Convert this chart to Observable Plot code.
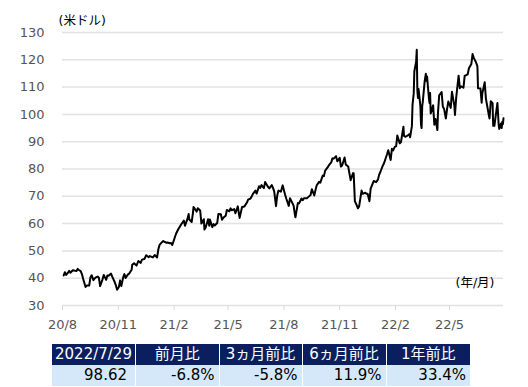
<!DOCTYPE html>
<html>
<head>
<meta charset="utf-8">
<script src="https://cdn.jsdelivr.net/npm/d3@7"></script>
<script src="https://cdn.jsdelivr.net/npm/@observablehq/plot@0.6"></script>
<style>
  html, body { margin: 0; padding: 0; background: #fff; }
  body { width: 528px; height: 387px; position: relative; overflow: hidden; font-family: "DejaVu Sans", "Noto Sans CJK JP", sans-serif; }
  #chart { position: absolute; left: 0; top: 0; }
  table.stats { position: absolute; left: 52px; top: 344px; border-collapse: collapse; font-size: 15px; font-family: "DejaVu Sans", "Noto Sans CJK JP", sans-serif; }
  table.stats td { height: 21px; padding: 0; line-height: 21px; border-left: 1px solid #fff; white-space: nowrap; }
  table.stats td:first-child { border-left: none; }
  table.stats tr.head td { background: #0b1f5e; color: #fff; text-align: center; }
  table.stats tr.vals td { background: #d5e8fa; color: #000; text-align: right; padding-right: 4px; }
  table.stats tr.vals td:first-child { padding-right: 8px; }
</style>
</head>
<body>
<div id="chart"></div>
<script>
// ---- data ----
const dates = [
"2020-08-03","2020-08-05","2020-08-07","2020-08-10","2020-08-12","2020-08-14","2020-08-18","2020-08-20","2020-08-24","2020-08-26","2020-08-28","2020-08-31",
"2020-09-02","2020-09-04","2020-09-08","2020-09-10","2020-09-14","2020-09-16","2020-09-18","2020-09-21","2020-09-23","2020-09-25","2020-09-28","2020-09-30",
"2020-10-02","2020-10-06","2020-10-08","2020-10-12","2020-10-14","2020-10-16","2020-10-20","2020-10-22","2020-10-26","2020-10-28","2020-10-30",
"2020-11-02","2020-11-04","2020-11-06","2020-11-09","2020-11-11","2020-11-13","2020-11-17","2020-11-19","2020-11-23","2020-11-24","2020-11-27",
"2020-12-01","2020-12-04","2020-12-08","2020-12-10","2020-12-14","2020-12-17","2020-12-21","2020-12-23","2020-12-28","2020-12-31",
"2021-01-04","2021-01-06","2021-01-08","2021-01-12","2021-01-14","2021-01-19","2021-01-21","2021-01-25","2021-01-27","2021-01-29",
"2021-02-02","2021-02-04","2021-02-08","2021-02-10","2021-02-12","2021-02-17","2021-02-19","2021-02-23","2021-02-25","2021-02-26",
"2021-03-02","2021-03-04","2021-03-05","2021-03-08","2021-03-10","2021-03-12","2021-03-16","2021-03-18","2021-03-22","2021-03-23","2021-03-25","2021-03-29","2021-03-31",
"2021-04-01","2021-04-05","2021-04-07","2021-04-09","2021-04-13","2021-04-15","2021-04-19","2021-04-21","2021-04-23","2021-04-27","2021-04-29",
"2021-05-03","2021-05-05","2021-05-07","2021-05-11","2021-05-13","2021-05-17","2021-05-19","2021-05-20","2021-05-24","2021-05-26","2021-05-28",
"2021-06-01","2021-06-03","2021-06-07","2021-06-09","2021-06-11","2021-06-15","2021-06-17","2021-06-21","2021-06-23","2021-06-25","2021-06-29",
"2021-07-01","2021-07-06","2021-07-08","2021-07-12","2021-07-14","2021-07-16","2021-07-19","2021-07-21","2021-07-23","2021-07-27","2021-07-30",
"2021-08-03","2021-08-05","2021-08-09","2021-08-11","2021-08-13","2021-08-17","2021-08-19","2021-08-20","2021-08-24","2021-08-26","2021-08-30",
"2021-09-01","2021-09-03","2021-09-08","2021-09-10","2021-09-14","2021-09-16","2021-09-20","2021-09-22","2021-09-24","2021-09-28","2021-09-30",
"2021-10-04","2021-10-06","2021-10-08","2021-10-12","2021-10-14","2021-10-18","2021-10-20","2021-10-22","2021-10-26","2021-10-28",
"2021-11-01","2021-11-03","2021-11-05","2021-11-09","2021-11-11","2021-11-15","2021-11-17","2021-11-19","2021-11-23","2021-11-24","2021-11-26","2021-11-30",
"2021-12-01","2021-12-03","2021-12-07","2021-12-09","2021-12-13","2021-12-15","2021-12-17","2021-12-20","2021-12-22","2021-12-27","2021-12-31",
"2022-01-03","2022-01-05","2022-01-07","2022-01-11","2022-01-13","2022-01-18","2022-01-20","2022-01-24","2022-01-26","2022-01-28","2022-01-31",
"2022-02-02","2022-02-04","2022-02-08","2022-02-10","2022-02-14","2022-02-15","2022-02-17","2022-02-22","2022-02-24","2022-02-25","2022-02-28",
"2022-03-01","2022-03-03","2022-03-04","2022-03-07","2022-03-08","2022-03-09","2022-03-10","2022-03-11","2022-03-14","2022-03-15","2022-03-16","2022-03-17","2022-03-18","2022-03-21","2022-03-23","2022-03-24","2022-03-25","2022-03-28","2022-03-29","2022-03-30","2022-03-31",
"2022-04-04","2022-04-06","2022-04-08","2022-04-11","2022-04-12","2022-04-14","2022-04-18","2022-04-20","2022-04-22","2022-04-25","2022-04-27","2022-04-29",
"2022-05-03","2022-05-05","2022-05-09","2022-05-10","2022-05-12","2022-05-16","2022-05-18","2022-05-20","2022-05-24","2022-05-26","2022-05-31",
"2022-06-02","2022-06-06","2022-06-08","2022-06-10","2022-06-14","2022-06-16","2022-06-17","2022-06-21","2022-06-23","2022-06-24","2022-06-28","2022-06-30",
"2022-07-05","2022-07-06","2022-07-08","2022-07-11","2022-07-12","2022-07-14","2022-07-15","2022-07-19","2022-07-21","2022-07-22","2022-07-25","2022-07-26","2022-07-27","2022-07-28","2022-07-29"
];
const prices = [
41.0,42.2,41.2,42.0,42.7,42.0,42.9,42.8,42.6,43.4,43.0,42.6,
41.5,39.8,36.8,37.3,37.3,40.2,41.1,39.3,39.9,40.3,40.6,40.2,
37.1,39.6,41.2,39.4,41.0,40.9,41.7,40.6,38.6,37.4,35.8,
36.8,39.2,37.1,40.3,41.5,40.1,41.4,41.7,43.1,44.9,45.5,
44.6,46.3,45.6,46.8,47.0,48.4,47.7,48.1,47.6,48.5,
47.6,50.6,52.2,53.2,53.6,53.0,53.1,52.8,52.9,52.2,
54.8,56.2,58.0,58.7,59.5,61.1,59.2,61.7,63.5,61.5,
60.6,63.8,66.1,65.1,64.4,65.6,64.8,60.0,61.6,57.8,58.6,61.6,59.2,
61.5,58.7,59.8,59.3,60.2,63.5,63.4,61.4,62.1,62.9,65.0,
64.5,65.6,64.9,65.3,63.8,66.3,63.4,62.1,66.1,66.2,66.3,
67.7,68.8,69.2,70.0,70.9,72.1,71.0,73.7,73.1,74.1,73.0,
75.2,73.4,72.9,74.1,73.1,71.8,66.4,70.3,72.1,71.7,74.0,
70.6,69.1,66.5,69.3,68.4,66.6,63.5,62.3,67.5,67.4,69.2,
68.6,69.3,69.3,69.7,70.5,72.6,70.3,72.2,74.0,75.3,75.0,
77.6,77.4,79.4,80.6,81.3,82.4,83.9,83.8,84.7,82.8,
84.1,80.9,81.3,84.2,81.6,80.9,78.4,75.9,78.5,78.4,68.2,66.2,
65.6,66.3,72.1,70.9,71.3,70.9,70.9,68.2,72.8,75.6,75.2,
76.1,77.9,78.9,81.2,82.1,85.4,86.9,83.3,87.4,86.8,88.2,
88.3,92.3,89.4,89.9,95.5,92.1,91.8,92.4,92.8,91.6,95.7,
103.4,107.7,115.7,119.4,123.7,108.7,106.0,109.3,103.0,96.4,95.0,103.0,104.7,112.1,114.9,112.3,113.9,106.0,104.2,107.8,100.3,
103.3,96.2,98.3,94.3,100.6,107.0,108.2,102.8,102.1,98.5,102.0,104.7,
102.4,108.3,103.1,99.8,106.1,114.2,109.6,110.3,109.8,114.1,114.7,
116.9,118.5,122.1,120.7,118.9,117.6,109.6,109.5,104.3,107.6,111.8,105.8,
99.5,98.5,104.8,104.1,95.8,95.8,97.6,104.2,96.4,94.7,96.7,95.0,97.3,96.4,98.6
];
const yTicks = [30, 40, 50, 60, 70, 80, 90, 100, 110, 120, 130];
const xTickDates = ["2020-08-01","2020-11-01","2021-02-01","2021-05-01","2021-08-01","2021-11-01","2022-02-01","2022-05-01"];
const xTickLabels = ["20/8","20/11","21/2","21/5","21/8","21/11","22/2","22/5"];
const yUnit = "(米ドル)";
const xUnit = "(年/月)";
const tableHeaders = ["2022/7/29","前月比","3ヵ月前比","6ヵ月前比","1年前比"];
const tableValues = ["98.62","-6.8%","-5.8%","11.9%","33.4%"];

// ---- build ----
const data = dates.map((d, i) => ({date: new Date(d + "T00:00:00Z"), price: prices[i]}));
const tickDates = xTickDates.map(d => new Date(d + "T00:00:00Z"));
const labelOf = new Map(tickDates.map((d, i) => [+d, xTickLabels[i]]));

const chart = Plot.plot({
  width: 528,
  height: 340,
  marginTop: 32,
  marginBottom: 35,
  marginLeft: 62,
  marginRight: 25,
  style: {fontFamily: '"DejaVu Sans", "Noto Sans CJK JP", sans-serif', fontSize: "13px", background: "transparent", overflow: "visible"},
  x: {type: "utc", domain: [new Date("2020-08-01T00:00:00Z"), new Date("2022-07-29T00:00:00Z")]},
  y: {domain: [30, 130]},
  marks: [
    Plot.ruleY(yTicks, {stroke: "#e2e2e2", strokeWidth: 1.5}),
    Plot.axisY({ticks: yTicks, tickSize: 0, tickPadding: 18, label: null, fill: "#555", fontSize: 13}),
    Plot.axisX({ticks: tickDates, tickFormat: d => labelOf.get(+d), tickSize: 5, tickPadding: 9, stroke: "#d8d8d8", fill: "#555", label: null, fontSize: 13}),
    Plot.lineY(data, {x: "date", y: "price", stroke: "#000", strokeWidth: 2, strokeLinejoin: "round"}),
    Plot.text([yUnit], {frameAnchor: "top-left", textAnchor: "start", dx: -4, dy: -16, fill: "#000", fontSize: 12.5}),
    Plot.text([xUnit], {frameAnchor: "bottom-right", textAnchor: "end", dx: -9, dy: -19, fill: "#000", fontSize: 12.5})
  ]
});
document.getElementById("chart").appendChild(chart);

// table
const widths = [83.5, 83.5, 83, 84, 84];
const table = document.createElement("table");
table.className = "stats";
const trh = document.createElement("tr"); trh.className = "head";
const trv = document.createElement("tr"); trv.className = "vals";
tableHeaders.forEach((h, i) => {
  const td = document.createElement("td");
  td.textContent = h;
  td.style.width = widths[i] + "px";
  td.style.minWidth = widths[i] + "px";
  td.style.maxWidth = widths[i] + "px";
  td.style.boxSizing = "border-box";
  trh.appendChild(td);
  const tv = document.createElement("td");
  tv.textContent = tableValues[i];
  tv.style.width = widths[i] + "px";
  tv.style.boxSizing = "border-box";
  trv.appendChild(tv);
});
table.appendChild(trh);
table.appendChild(trv);
document.body.appendChild(table);
</script>
</body>
</html>
